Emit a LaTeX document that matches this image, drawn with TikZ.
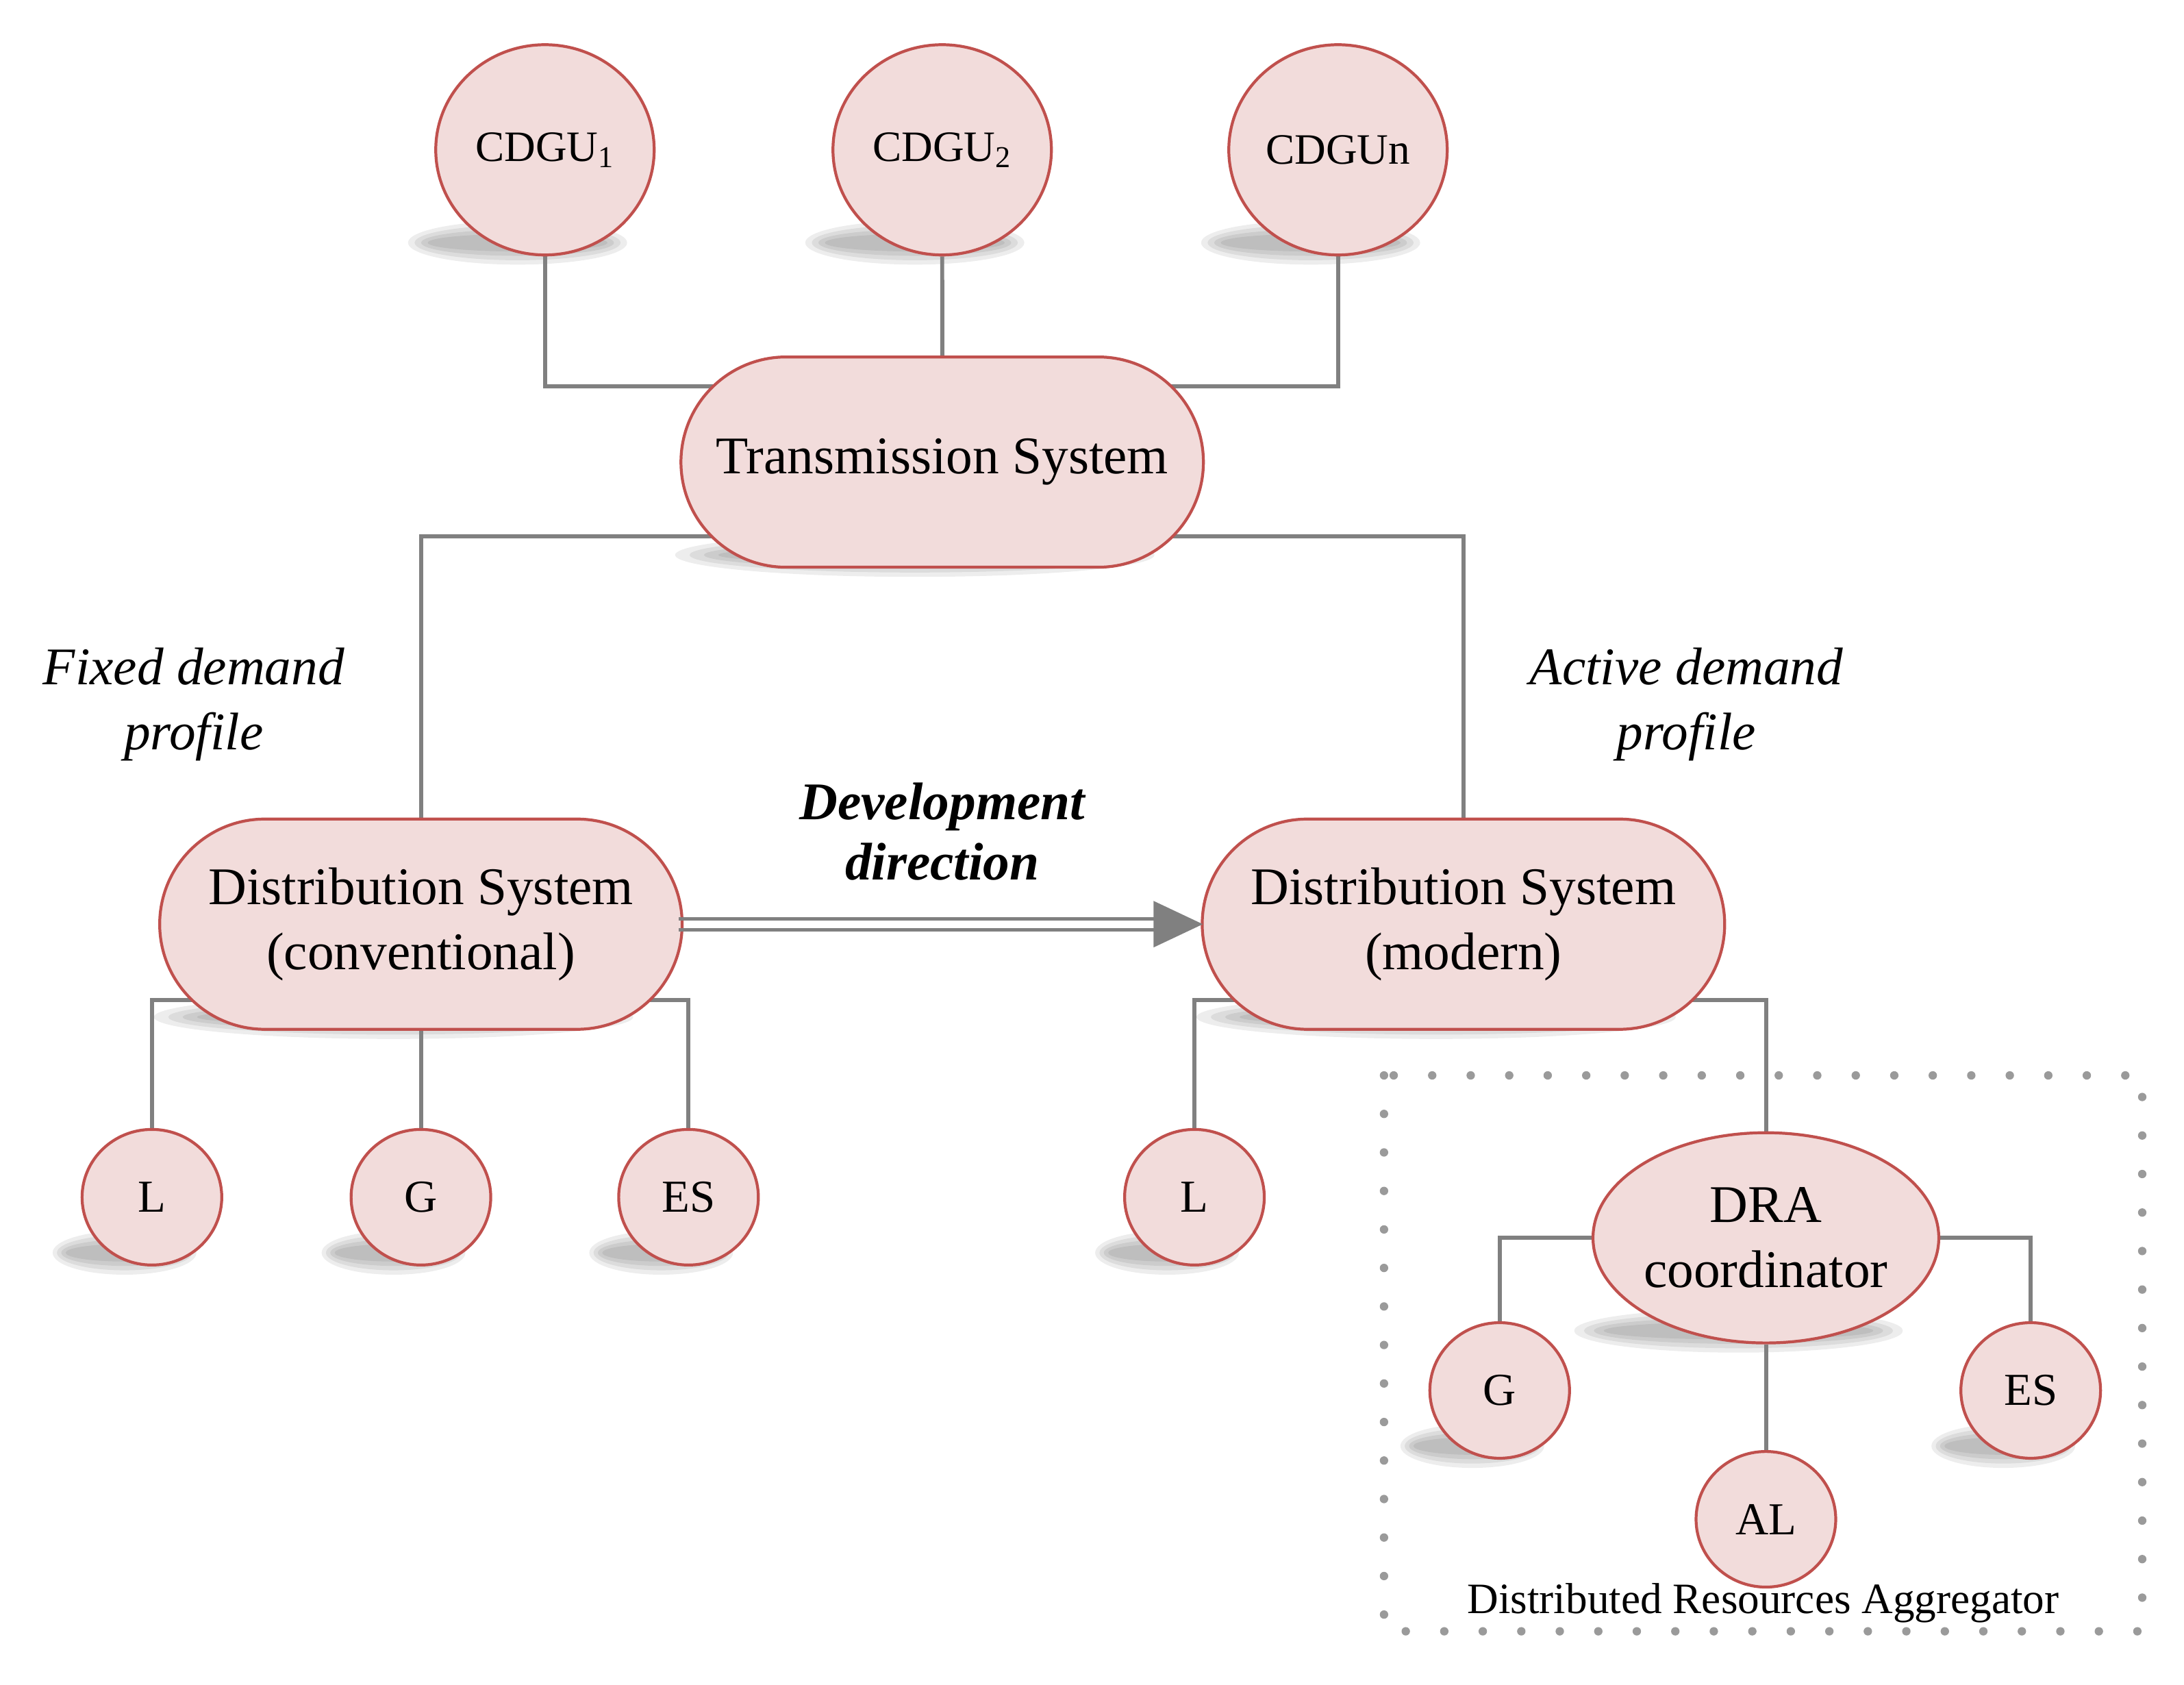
\documentclass[tikz,border=0pt]{standalone}
\usepackage{fontspec}
\setmainfont{Liberation Serif}
\usetikzlibrary{shapes.geometric,shapes.misc,backgrounds}
\definecolor{nfill}{HTML}{F2DCDB}
\definecolor{ndraw}{HTML}{C0504D}
\definecolor{lgray}{HTML}{808080}
\newcommand\myshad[2]{%
  \foreach \k in {0,1,2,3}{%
    \fill[black,opacity=0.07] ([xshift=-0.4cm,yshift=0.2cm]#1.south) ellipse ({#2*(1-0.06*\k)} and {0.32cm*(1-0.2*\k)});}}
\begin{document}
\begin{tikzpicture}[x=0.02035cm,y=-0.02044cm,
  base/.style={fill=nfill,draw=ndraw,line width=1.2pt,inner sep=0pt,align=center},
  big/.style={base,ellipse,minimum width=3.19cm,minimum height=3.07cm,font=\fontsize{18}{21}\selectfont},
  sys/.style={base,rounded rectangle,minimum width=7.63cm,minimum height=3.07cm,font=\fontsize{22}{27}\selectfont},
  small/.style={base,ellipse,minimum width=2.04cm,minimum height=1.98cm,font=\fontsize{19}{22}\selectfont},
  conn/.style={draw=lgray,line width=1.7pt},
  lab/.style={font=\fontsize{22}{27}\selectfont\itshape,align=center}]
\useasboundingbox (0,0) rectangle (1567,1203);
\node[big] (c1) at (391,107) {CDGU\textsubscript{1}};
\node[big] (c2) at (676,107) {CDGU\textsubscript{2}};
\node[big] (cn) at (960,107) {CDGUn};
\node[sys] (ts) at (676,330) {Transmission System};
\node[sys] (dc) at (302,660) {Distribution System\\(conventional)};
\node[sys] (dm) at (1050,660) {Distribution System\\(modern)};
\node[small] (l1) at (109,855) {L};
\node[small] (g1) at (302,855) {G};
\node[small] (e1) at (494,855) {ES};
\node[small] (l2) at (857,855) {L};
\node[base,ellipse,minimum width=5.05cm,minimum height=3.07cm,font=\fontsize{22}{27}\selectfont] (dra) at (1267,884) {DRA\\coordinator};
\node[small] (g2) at (1076,993) {G};
\node[small] (e2) at (1457,993) {ES};
\node[small] (al) at (1267,1085) {AL};
\coordinate (t1) at (676,276);
\coordinate (t2) at (676,383);
\coordinate (d1) at (302,714);
\coordinate (d2) at (1050,714);
\begin{scope}[on background layer]
\myshad{c1}{1.6cm}\myshad{c2}{1.6cm}\myshad{cn}{1.6cm}
\myshad{ts}{3.5cm}\myshad{dc}{3.5cm}\myshad{dm}{3.5cm}
\myshad{l1}{1.05cm}\myshad{g1}{1.05cm}\myshad{e1}{1.05cm}\myshad{l2}{1.05cm}
\myshad{dra}{2.4cm}\myshad{g2}{1.05cm}\myshad{e2}{1.05cm}
\draw[conn] (c1.south) |- (t1);
\draw[conn] (cn.south) |- (t1);
\draw[conn] (c2.south) -- (ts);
\draw[conn] (t2) -| (dc.north);
\draw[conn] (t2) -| (dm.north);
\draw[conn] (d1) -| (l1.north);
\draw[conn] (d1) -| (e1.north);
\draw[conn] (dc.south) -- (g1.north);
\draw[conn] (d2) -| (l2.north);
\draw[conn] (d2) -| (dra.north);
\draw[conn] (dra.center) -| (g2.north);
\draw[conn] (dra.center) -| (e2.north);
\draw[conn] (dra.south) -- (al.north);
\end{scope}
\coordinate (a1) at (487,660);
\coordinate (a2) at (863,660);
\draw[lgray,line width=1.3pt] ([yshift=0.08cm]a1) -- ([xshift=-0.7cm,yshift=0.08cm]a2);
\draw[lgray,line width=1.3pt] ([yshift=-0.08cm]a1) -- ([xshift=-0.7cm,yshift=-0.08cm]a2);
\fill[lgray] (a2) -- ([xshift=-0.72cm,yshift=0.34cm]a2) -- ([xshift=-0.72cm,yshift=-0.34cm]a2) -- cycle;
\node[lab] (fd) at (139,503) {Fixed demand\\profile};
\node[lab] (ad) at (1210,503) {Active demand\\profile};
\node[lab,font=\fontsize{22}{25}\selectfont\bfseries\itshape] (dd) at (676,594) {Development\\direction};
\draw[lgray!80,line width=3.5pt,dash pattern=on 0pt off 16pt,line cap=round] (993,768) rectangle (1537,1165);
\node[font=\fontsize{18}{21}\selectfont] (dra-l) at (1265,1145) {Distributed Resources Aggregator};
\end{tikzpicture}
\end{document}
